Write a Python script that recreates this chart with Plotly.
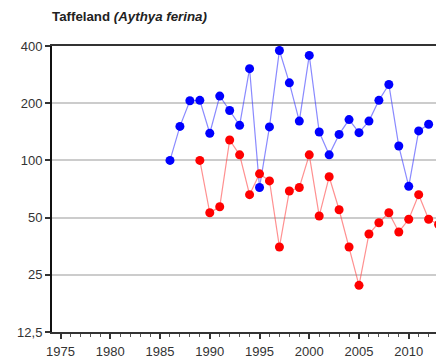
import plotly.graph_objects as go

# Winter counts of common pochard, two survey series (log scale)
blue_years = list(range(1986, 2013))
blue_counts = [100, 151, 206, 207, 139, 218, 183, 153, 304, 72, 150, 379, 256, 161,
               357, 141, 107, 137, 164, 140, 161, 207, 251, 119, 73, 143, 155]

red_years = list(range(1989, 2014))
red_counts = [100, 53, 57, 128, 107, 66, 85, 78, 35, 69, 72, 107, 51, 82, 55, 35,
              22, 41, 47, 53, 42, 49, 66, 49, 46]

y_tick_vals = [12.5, 25, 50, 100, 200, 400]
y_tick_text = ["12,5", "25", "50", "100", "200", "400"]
x_tick_vals = [1975, 1980, 1985, 1990, 1995, 2000, 2005, 2010]

fig = go.Figure()
fig.add_trace(go.Scatter(
    x=blue_years, y=blue_counts, mode="lines+markers",
    line=dict(color="rgba(60,60,255,0.6)", width=1.2),
    marker=dict(color="#0000ff", size=9),
    showlegend=False,
))
fig.add_trace(go.Scatter(
    x=red_years, y=red_counts, mode="lines+markers",
    line=dict(color="rgba(255,70,70,0.6)", width=1.2),
    marker=dict(color="#ff0000", size=9),
    showlegend=False,
))

fig.update_layout(
    width=436, height=360,
    margin=dict(l=52, r=0, t=46, b=28),
    paper_bgcolor="white", plot_bgcolor="white",
    font=dict(family="Arial, Liberation Sans, sans-serif", size=13, color="#333333"),
    title=dict(
        text="<b>Taffeland <i>(Aythya ferina)</i></b>",
        x=52 / 436, xanchor="left", y=1 - 16 / 360, yanchor="middle",
        font=dict(size=13.3, color="#222222"),
    ),
)

fig.update_xaxes(
    range=[1974.14, 2012.74],
    tickvals=x_tick_vals,
    ticks="outside", ticklen=5, tickwidth=1.5, tickcolor="#333333",
    minor=dict(dtick=1, tick0=1975, ticks="outside", ticklen=3, tickwidth=1, tickcolor="#555555"),
    showgrid=False, zeroline=False,
    showline=True, linecolor="#333333", linewidth=2, mirror=True,
    ticklabelstandoff=1,
)
fig.update_yaxes(
    type="log",
    range=[1.09691, 2.60206],
    tickvals=y_tick_vals, ticktext=y_tick_text,
    ticks="outside", ticklen=5, tickwidth=1.5, tickcolor="#333333",
    showgrid=True, gridcolor="#cccccc", gridwidth=1.5,
    zeroline=False,
    showline=True, linecolor="#111111", linewidth=2,
)

fig.write_html("out.html")
